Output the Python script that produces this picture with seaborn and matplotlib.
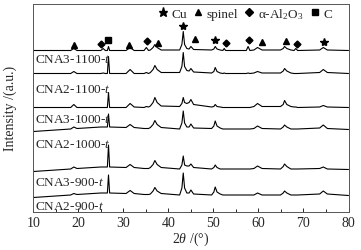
import pandas as pd
import seaborn as sns
import matplotlib.pyplot as plt
from matplotlib.lines import Line2D
from matplotlib.ticker import MultipleLocator

# 2theta sampling points (feet and tops of the peaks)
two_theta = [10, 18.3, 19.0, 19.7, 25.0, 25.5, 26.0, 26.45, 26.7, 26.95,
             30.6, 31.5, 32.4, 34.6, 35.1, 35.6, 36.0, 36.6, 37.0, 37.5,
             38.4, 42.5, 43.0, 43.3, 43.6, 44.1, 44.6, 45.0, 45.6, 49.6,
             50.1, 50.4, 50.8, 51.5, 52.1, 52.4, 52.7, 57.3, 57.7, 58.1,
             59.0, 59.8, 60.8, 64.9, 65.5, 65.8, 66.3, 67.2, 67.9, 68.3,
             68.7, 73.6, 74.4, 75.3, 80]

samples = ['CNA3-1100-t', 'CNA2-1100-t', 'CNA3-1000-t',
           'CNA2-1000-t', 'CNA3-900-t', 'CNA2-900-t']

# intensities (a.u.) at the points above
cna3_1100 = [0, 0, 2, 0, 0, 2, 0, 0, 4, 0,
             0, 3, 0, 0, 3, 0, 0.5, 3, 6, 3,
             0.5, 0.5, 6, 19, 6, 2, 1.5, 4, 1, 0.5,
             1.5, 4, 1.5, 0.5, 0, 2, 0, 0, 4, 0,
             0.5, 3, 0.5, 0.5, 2, 4, 2, 0.5, 0, 2,
             0, 0.5, 3, 0.5, 0]
cna2_1100 = [0, 0, 2, 0, 0, 0.5, 0, 0, 17, 0,
             0, 4, 0, 0, 1, 0, 1, 4, 8, 4,
             1, 1, 7, 21, 7, 3, 2.5, 5, 1.5, 0.5,
             2, 6, 2, 0.5, 0, 0.5, 0, 0, 0.5, 0,
             0.5, 2, 0.5, 0.5, 2.5, 5, 2.5, 0.5, 0, 0,
             0, 1, 4, 1, 0]
cna3_1000 = [0, 0, 3, 0, 0, 0, 0, 0, 15, 0,
             0, 4, 0.5, 0, 1, 0.5, 1.5, 5, 10, 5,
             1.5, 1, 4, 10, 5, 4, 5, 8, 3, 0.5,
             1, 3, 1, 0.5, 0, 0, 0, 0, 0, 0,
             1, 4, 1, 1, 3, 7, 3, 1, 0.5, 0.5,
             0, 0.5, 2, 0.5, 0]
cna2_1000 = [0, 2.5, 4.5, 3, 4.5, 4.5, 4.5, 4.5, 17.5, 4.5,
             4, 7, 4, 3, 3, 3, 4, 7, 11, 7,
             4, 2.5, 8.5, 20.5, 8.5, 4.5, 4.5, 7.5, 3.5, 3,
             5.5, 10.5, 5.5, 3.5, 2.5, 2.5, 2.5, 2.5, 2.5, 2.5,
             3, 5.5, 3, 2.5, 4.5, 6.5, 4.5, 2.5, 2.5, 2.5,
             2.5, 3.5, 6.5, 3, 2]
cna3_900 = [0, 2.5, 4.5, 3, 4.5, 4.5, 4.5, 4.5, 26.5, 4.5,
            4, 7, 4, 3, 3, 3, 4, 7, 11, 7,
            4, 2.5, 6.5, 15.5, 6.5, 5.5, 5.5, 7.5, 4, 2.5,
            4, 6.5, 4, 2.5, 2.5, 2.5, 2.5, 2.5, 2.5, 2.5,
            3, 5.5, 3, 2.5, 5, 7.5, 5, 2.5, 2.5, 2.5,
            2.5, 3, 4.5, 2.5, 2]
cna2_900 = [0, 2.5, 4, 3, 4.5, 4.5, 4.5, 4.5, 22.5, 4.5,
            4, 7, 4, 3, 3, 3, 3.5, 6.5, 10, 6.5,
            4, 2.5, 9.5, 24.5, 9.5, 4.5, 4.5, 7.5, 3.5, 2.5,
            5.5, 10.5, 5.5, 3.5, 2.5, 2.5, 2.5, 2.5, 2.5, 2.5,
            2.5, 4.5, 2.5, 2.5, 4.5, 6.5, 4.5, 2.5, 2.5, 2.5,
            2.5, 3.5, 6.5, 3.5, 2]

# phase markers above the top pattern
cu_x = [43.3, 50.4, 74.6]
cu_y = [185.3, 171.3, 169.7]
spinel_x = [19.0, 31.3, 37.6, 45.8, 60.7, 66.2]
spinel_y = [167, 167, 168.7, 172.7, 169.3, 171]
al2o3_x = [25.0, 35.2, 52.8, 57.8, 68.5]
al2o3_y = [168, 171, 168.7, 171.3, 168]
c_x = [26.7]
c_y = [171.3]

# stacking offsets and label heights
offsets = [161, 138, 104, 80, 40, 14]
label_y = [152.5, 122.5, 92.5, 67.5, 29.5, 5.5]

sns.set_style('ticks')
plt.rcParams['font.family'] = ['Liberation Serif', 'DejaVu Serif']
plt.rcParams['mathtext.fontset'] = 'custom'
plt.rcParams['mathtext.rm'] = 'Liberation Serif'
plt.rcParams['mathtext.it'] = 'Liberation Serif:italic'

rows = []
for name, vals, off in zip(samples, [cna3_1100, cna2_1100, cna3_1000,
                                     cna2_1000, cna3_900, cna2_900], offsets):
    for t, v in zip(two_theta, vals):
        rows.append({'two_theta': t, 'intensity': v + off, 'sample': name})
df = pd.DataFrame(rows)

fig = plt.figure(figsize=(3.61, 2.51), dpi=100)
ax = fig.add_axes([33.3 / 361, (251 - 212.5) / 251, 315.2 / 361, 207.5 / 251])

sns.lineplot(data=df, x='two_theta', y='intensity', hue='sample',
             palette=['black'] * 6, estimator=None, sort=False,
             linewidth=0.8, legend=False, ax=ax)

ax.plot(cu_x, cu_y, ls='none', marker='*', ms=6, color='black')
ax.plot(spinel_x, spinel_y, ls='none', marker='^', ms=4.5, color='black')
ax.plot(al2o3_x, al2o3_y, ls='none', marker='D', ms=3.5, color='black')
ax.plot(c_x, c_y, ls='none', marker='s', ms=4, color='black')

for name, y in zip(samples, label_y):
    ax.text(10.4, y, name[:-1] + '$t$', fontsize=9.5, va='center', ha='left')

handles = [Line2D([], [], ls='none', marker='*', ms=6.5, color='black', label='Cu'),
           Line2D([], [], ls='none', marker='^', ms=5, color='black', label='spinel'),
           Line2D([], [], ls='none', marker='D', ms=4, color='black', label='α-Al$_2$O$_3$'),
           Line2D([], [], ls='none', marker='s', ms=4.5, color='black', label='C')]
ax.legend(handles=handles, ncol=4, frameon=False, fontsize=9.5,
          loc='center right', bbox_to_anchor=(0.948, 0.955), borderpad=0,
          borderaxespad=0, handlelength=0.8, handletextpad=0.25,
          columnspacing=0.45)

ax.set_xlim(10, 80)
ax.set_ylim(0, 207.5)
ax.xaxis.set_major_locator(MultipleLocator(10))
ax.xaxis.set_minor_locator(MultipleLocator(5))
ax.tick_params(axis='x', which='major', direction='in', length=3, width=0.7,
               labelsize=10, pad=3)
ax.tick_params(axis='x', which='minor', direction='in', length=2, width=0.7)
ax.set_yticks([])
for s in ax.spines.values():
    s.set_linewidth(0.7)
    s.set_color('#555555')

ax.set_xlabel('$\\mathit{2\\theta}$ /(°)', fontsize=10, labelpad=1)
ax.set_ylabel('Intensity /(a.u.)', fontsize=10, labelpad=12)

fig.savefig('out.png', dpi=100)
